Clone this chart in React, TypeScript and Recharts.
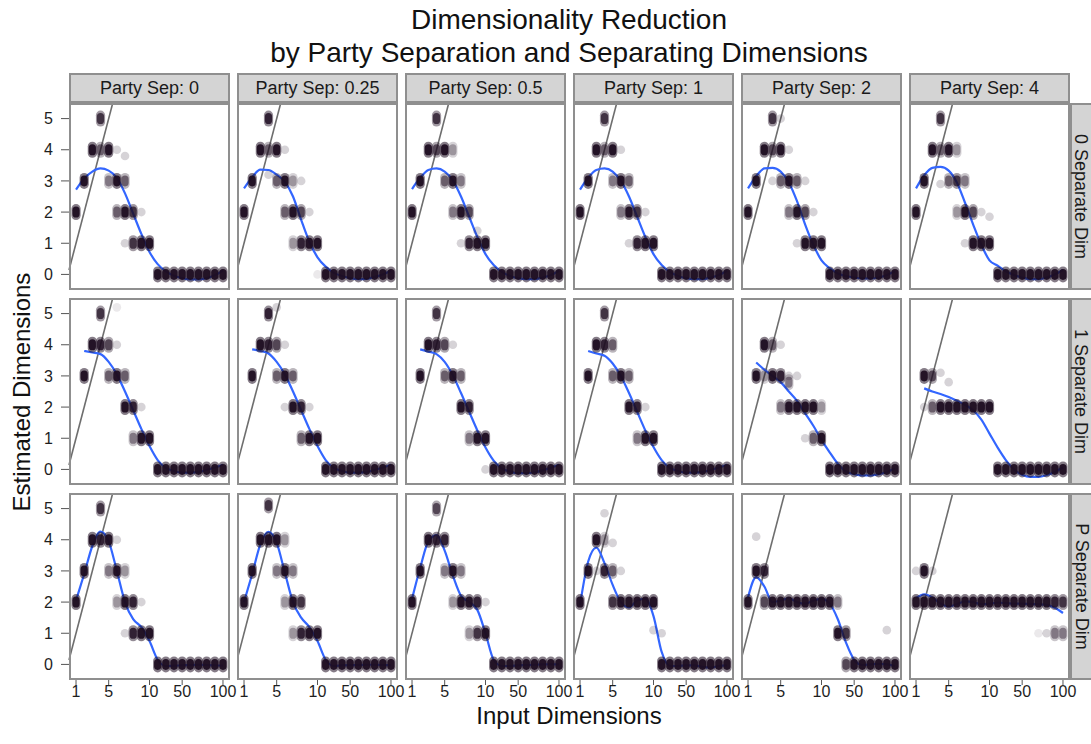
import { ComposedChart, Scatter, Line, XAxis, YAxis, ReferenceLine } from "recharts";

// x categories are placed by index (1..10, then 20..100)
const X_VALUES = [1, 2, 3, 4, 5, 6, 7, 8, 9, 10, 20, 30, 40, 50, 60, 70, 80, 90, 100];
const X_TICK_LABELS = [1, 5, 10, 50, 100];
const Y_TICKS = [0, 1, 2, 3, 4, 5];
const PARTY_SEP = ["0", "0.25", "0.5", "1", "2", "4"];
const SEPARATE_DIMS = ["0", "1", "P"];

// points per input dimension: "estimate:darkness(1-9)"
const PTS_0SEP_0 = ["2:9", "3:9", "4:9", "5:7 4:5", "4:9 3:4", "4:2 3:9 2:5", "3.8:2 3:5 2:9 1:2", "2:7 1:7", "2:2 1:9", "1:9", "0:9", "0:9", "0:9", "0:9", "0:9", "0:9", "0:9", "0:9", "0:9"];
const PTS_0SEP_025 = ["2:9", "3:9", "4:9", "5:8 4:5 3.2:2", "4:9 3:5", "4:2 3:9 2:5", "3:3 2:9 1:3", "3:2 2:6 1:8", "2:2 1:9", "1:9 0:1", "0:9", "0:9", "0:9", "0:9", "0:9", "0:9", "0:9", "0:9", "0:9"];
const PTS_0SEP_05 = ["2:9", "3:9", "4:9", "5:7 4:6", "4:9 3:5", "4:3 3:9 2:4", "3:4 2:9 1:2", "2:6 1:8", "1.4:2 1:9", "1:9", "0:9", "0:9", "0:9", "0:9", "0:9", "0:9", "0:9", "0:9", "0:9"];
const PTS_0SEP_1 = ["2:9", "3:9", "4:9", "5:7 4:5", "4:9 3:4", "4:2 3:9 2:4", "3:5 2:9 1:2", "2:7 1:8", "2:2 1:9", "1:9", "0:9", "0:9", "0:9", "0:9", "0:9", "0:9", "0:9", "0:9", "0:9"];
const PTS_0SEP_2 = ["2:9", "3:9", "4:9", "5:7 4:6 3:2", "5:2 4:9 3:5", "4:2 3:9 2:4", "3:5 2:9 1:2", "3:2 2:6 1:9", "2:2 1:9", "1:9", "0:9", "0:9", "0:9", "0:9", "0:9", "0:9", "0:9", "0:9", "0:9"];
const PTS_0SEP_4 = ["2:9", "3:9", "4:9", "5:7 4:5 2.9:2", "4:9 3:5", "4:3 3:7 2:3", "3:4 2:9 1:2", "2:6 1:9", "2:2 1:9", "1.85:2 1:9", "0:9", "0:9", "0:9", "0:9", "0:9", "0:9", "0:9", "0:9", "0:9"];

const PTS_1SEP_0 = ["", "3:9", "4:9", "5:7 4:8", "4:6 3:5", "5.2:1 4:2 3:9", "3:5 2:9", "2:8 1:4", "2:2 1:9", "1:9", "0:9", "0:9", "0:9", "0:9", "0:9", "0:9", "0:9", "0:9", "0:9"];
const PTS_1SEP_025 = ["", "3:9", "4:9", "5:8 4:8", "5.2:2 4:6 3:5", "4:2 3:9 2:2", "3:5 2:9", "2:8 1:5", "2:2 1:9", "1:9", "0:9", "0:9", "0:9", "0:9", "0:9", "0:9", "0:9", "0:9", "0:9"];
const PTS_1SEP_05 = ["", "3:9", "4:9", "5:7 4:8", "4:6 3:5", "4:2 3:9", "3:5 2:9", "2:8 1:4", "1:9", "1:9 0:2", "0:9", "0:9", "0:9", "0:9", "0:9", "0:9", "0:9", "0:9", "0:9"];
const PTS_1SEP_1 = ["", "3:9", "4:9", "5:7 4:8", "4:5 3:5", "3:9", "3:5 2:9", "2:8 1:4", "2:2 1:9", "1:9", "0:9", "0:9", "0:9", "0:9", "0:9", "0:9", "0:9", "0:9", "0:9"];
const PTS_1SEP_2 = ["", "3:9", "4:9 3:3", "4:5 3:9", "4:2 3:8 2:4", "3:2 2.8:4 2:9", "3:2 2:9", "2:9 1:2", "2:9 1:5", "2:3 1:9", "0:9", "0:9", "0:9", "0:9", "0:9", "0:9", "0:9", "0:9", "0:9"];
const PTS_1SEP_4 = ["", "3:9 2:2", "3:6 2:5", "3.1:2 2:9", "2.8:2 2:9", "2:9", "2:9", "2:9", "2:9", "2:9", "0:9", "0:9", "0:9", "0:9", "0:9", "0:9", "0:9", "0:9", "0:9"];

const PTS_PSEP_0 = ["2:9", "3:9", "4:9", "5:7 4:8", "4:9 3:4", "4:2 3:9 2:3", "3:3 2:9 1:2", "2:8 1:8", "2:2 1:9", "1:9", "0:9", "0:9", "0:9", "0:9", "0:9", "0:9", "0:9", "0:9", "0:9"];
const PTS_PSEP_025 = ["2:9", "3:9", "4:9", "5.1:7 4:9", "4:9 3:4", "4:3 3:9 2:3", "3:4 2:9 1:3", "2:7 1:8", "1:9", "1:9", "0:9", "0:9", "0:9", "0:9", "0:9", "0:9", "0:9", "0:9", "0:9"];
const PTS_PSEP_05 = ["2:9", "3:9", "4:9", "5:6 4:8", "4:8 3:4", "3:9 2:3", "3:4 2:9", "2:9 1:3", "2:8 1:7", "2:2 1:9", "0:9", "0:9", "0:9", "0:9", "0:9", "0:9", "0:9", "0:9", "0:9"];
const PTS_PSEP_1 = ["2:9", "3:9", "4:9 3:2", "4.85:2 4:3 3:8", "3.9:2 3:5 2:7", "3:2 2:9", "2:9", "2:9", "2:9", "2:9 1.1:2", "1:2 0:9", "0:9", "0:9", "0:9", "0:9", "0:9", "0:9", "0:9", "0:9"];
const PTS_PSEP_2 = ["2:9", "4.1:2 3:9", "3:8 2:6", "2:9", "2:9", "2:9", "2:9", "2:9", "2:9", "2:9", "2:9", "2:4 1:9", "1:7 0:6", "0:9", "0:9", "0:9", "0:9", "1.1:2 0:9", "0:9"];
const PTS_PSEP_4 = ["3:2 2:9", "3:9 2:9", "3:2 2:9", "2:9", "2:9", "2:9", "2:9", "2:9", "2:9", "2:9", "2:9", "2:9", "2:9", "2:9", "2:9", "2:9 1:1", "2:9 1:2", "2:8 1:4", "2:7 1:4"];

// loess fit read at each input dimension (null = no data)
const FIT_0SEP_0 = [2.72, 3.08, 3.3, 3.4, 3.33, 3.1, 2.6, 1.95, 1.3, 0.72, 0.33, 0.1, -0.04, -0.12, -0.16, -0.16, -0.12, -0.03, 0.13];
const FIT_0SEP_025 = [2.76, 3.12, 3.36, 3.35, 3.2, 2.97, 2.5, 1.75, 1.05, 0.55, 0.25, 0.05, -0.05, -0.12, -0.15, -0.14, -0.08, 0.0, 0.12];
const FIT_0SEP_05 = [2.74, 3.1, 3.35, 3.4, 3.3, 3.02, 2.5, 1.85, 1.2, 0.65, 0.3, 0.08, -0.05, -0.12, -0.15, -0.15, -0.1, -0.02, 0.12];
const FIT_0SEP_1 = [2.72, 3.1, 3.35, 3.4, 3.3, 3.0, 2.5, 1.85, 1.2, 0.65, 0.3, 0.08, -0.05, -0.12, -0.15, -0.15, -0.1, -0.02, 0.12];
const FIT_0SEP_2 = [2.76, 3.15, 3.4, 3.42, 3.3, 2.95, 2.35, 1.6, 0.95, 0.45, 0.2, 0.03, -0.05, -0.1, -0.13, -0.13, -0.1, -0.02, 0.1];
const FIT_0SEP_4 = [2.76, 3.18, 3.42, 3.45, 3.33, 2.95, 2.3, 1.6, 0.95, 0.45, 0.28, 0.1, -0.02, -0.1, -0.15, -0.15, -0.1, 0.0, 0.14];

const FIT_1SEP_0 = [null, 3.8, 3.75, 3.7, 3.45, 3.05, 2.5, 1.9, 1.3, 0.75, 0.3, 0.05, -0.05, -0.1, -0.1, -0.08, -0.02, 0.06, 0.15];
const FIT_1SEP_025 = [null, 3.85, 3.8, 3.72, 3.45, 3.05, 2.5, 1.9, 1.3, 0.75, 0.3, 0.05, -0.05, -0.1, -0.1, -0.08, -0.02, 0.06, 0.15];
const FIT_1SEP_05 = [null, 3.85, 3.78, 3.7, 3.45, 3.02, 2.45, 1.85, 1.25, 0.7, 0.28, 0.03, -0.07, -0.12, -0.12, -0.09, -0.03, 0.05, 0.15];
const FIT_1SEP_1 = [null, 3.8, 3.72, 3.65, 3.4, 3.0, 2.45, 1.85, 1.25, 0.72, 0.3, 0.05, -0.05, -0.1, -0.1, -0.08, -0.02, 0.06, 0.15];
const FIT_1SEP_2 = [null, 3.43, 3.2, 3.0, 2.8, 2.5, 2.2, 1.8, 1.4, 0.95, 0.55, 0.18, -0.07, -0.15, -0.19, -0.19, -0.15, -0.08, 0.04];
const FIT_1SEP_4 = [null, 2.6, 2.5, 2.42, 2.32, 2.2, 2.07, 1.9, 1.6, 1.15, 0.7, 0.3, 0.0, -0.17, -0.24, -0.24, -0.18, -0.08, 0.07];

const FIT_PSEP_0 = [2.05, 2.9, 3.8, 4.26, 3.95, 3.0, 2.0, 1.45, 1.2, 0.75, 0.15, -0.05, -0.04, -0.03, -0.02, -0.01, -0.02, -0.03, -0.04];
const FIT_PSEP_025 = [2.0, 2.9, 3.85, 4.25, 3.9, 2.95, 2.0, 1.5, 1.2, 0.75, 0.15, -0.05, -0.03, -0.02, -0.02, -0.01, -0.01, -0.02, -0.03];
const FIT_PSEP_05 = [2.1, 3.1, 3.95, 4.15, 3.65, 2.85, 2.2, 2.0, 1.75, 1.0, 0.15, -0.05, -0.05, -0.03, -0.02, -0.01, 0, 0, 0];
const FIT_PSEP_1 = [1.91, 3.3, 3.75, 3.25, 2.55, 2.0, 1.83, 2.05, 2.1, 1.55, 0.4, -0.05, -0.05, -0.03, -0.03, -0.08, -0.1, -0.05, -0.03];
const FIT_PSEP_2 = [2.15, 2.8, 2.5, 2.0, 2.05, 2.12, 2.0, 1.95, 2.05, 2.1, 1.95, 1.45, 0.7, 0.15, -0.02, 0, 0.02, 0, -0.05];
const FIT_PSEP_4 = [2.13, 2.25, 2.15, 1.95, 1.86, 1.93, 2.02, 2.0, 1.93, 1.95, 1.98, 1.97, 1.95, 1.95, 1.94, 1.93, 1.91, 1.82, 1.65];

const POINTS = [
  [PTS_0SEP_0, PTS_0SEP_025, PTS_0SEP_05, PTS_0SEP_1, PTS_0SEP_2, PTS_0SEP_4],
  [PTS_1SEP_0, PTS_1SEP_025, PTS_1SEP_05, PTS_1SEP_1, PTS_1SEP_2, PTS_1SEP_4],
  [PTS_PSEP_0, PTS_PSEP_025, PTS_PSEP_05, PTS_PSEP_1, PTS_PSEP_2, PTS_PSEP_4],
];
const FITS = [
  [FIT_0SEP_0, FIT_0SEP_025, FIT_0SEP_05, FIT_0SEP_1, FIT_0SEP_2, FIT_0SEP_4],
  [FIT_1SEP_0, FIT_1SEP_025, FIT_1SEP_05, FIT_1SEP_1, FIT_1SEP_2, FIT_1SEP_4],
  [FIT_PSEP_0, FIT_PSEP_025, FIT_PSEP_05, FIT_PSEP_1, FIT_PSEP_2, FIT_PSEP_4],
];

const X_DOMAIN: [number, number] = [-0.86, 18.86];
const Y_DOMAIN: [number, number] = [-0.5, 5.5];
const X_TICKS = X_TICK_LABELS.map((v) => X_VALUES.indexOf(v));

const FONT = "'Liberation Sans', Arial, sans-serif";
const INK = "#1e0d21";
const PLOT_LEFT = 69;
const PLOT_W = 161;
const COL_PITCH = 168;
const PLOT_TOP = 103;
const PLOT_H = 187;
const ROW_PITCH = 195;
const Y_AXIS_W = 40;
const X_AXIS_H = 30;
const X_OVERHANG = 16;

const parsePoints = (cols: string[]) => {
  const out: { x: number; y: number; a: number }[] = [];
  cols.forEach((s, i) => {
    s.split(" ").filter(Boolean).forEach((tok) => {
      const [y, n] = tok.split(":");
      out.push({ x: i, y: Number(y), a: Number(n) / 10 });
    });
  });
  return out.sort((p, q) => p.a - q.a);
};

const Blob = (props: any) => {
  const { cx, cy } = props;
  if (cx == null || cy == null) return null;
  const a = props.payload?.a ?? props.a ?? 0.9;
  if (a <= 0.2) return <circle cx={cx} cy={cy} r={4.3} fill={INK} fillOpacity={a * 0.9} />;
  return (
    <g>
      <rect x={cx - 4.6} y={cy - 8} width={9.2} height={16} rx={4.6} fill={INK} fillOpacity={a * 0.6} />
      <rect x={cx - 3.6} y={cy - 5.5} width={7.2} height={11} rx={3.6} fill={INK} fillOpacity={Math.min(1, a * 1.05)} />
    </g>
  );
};

const Panel = ({ r, c }: { r: number; c: number }) => {
  const pts = parsePoints(POINTS[r][c]);
  const fit = FITS[r][c]
    .map((y, i) => (y == null ? null : { x: i, y }))
    .filter(Boolean) as { x: number; y: number }[];
  const showY = c === 0;
  const showX = r === 2;
  const extraRight = showX ? X_OVERHANG : 0;
  const w = PLOT_W + (showY ? Y_AXIS_W : 0) + extraRight;
  const h = PLOT_H + (showX ? X_AXIS_H : 0);
  const left = PLOT_LEFT + c * COL_PITCH;
  const top = PLOT_TOP + r * ROW_PITCH;
  return (
    <>
      <div style={{ position: "absolute", left: left - (showY ? Y_AXIS_W : 0), top }}>
        <ComposedChart width={w} height={h} margin={{ top: 0, right: extraRight, bottom: 0, left: 0 }}>
          <XAxis
            type="number"
            dataKey="x"
            domain={X_DOMAIN}
            allowDataOverflow
            ticks={X_TICKS}
            interval={0}
            tickFormatter={(v) => String(X_VALUES[v])}
            hide={!showX}
            height={X_AXIS_H}
            axisLine={false}
            tickSize={5}
            tickMargin={1}
            tick={{ fontSize: 16, fill: "#1e1e1e", fontFamily: FONT }}
            tickLine={{ stroke: "#555" }}
          />
          <YAxis
            type="number"
            dataKey="y"
            domain={Y_DOMAIN}
            allowDataOverflow
            ticks={Y_TICKS}
            interval={0}
            hide={!showY}
            width={Y_AXIS_W}
            axisLine={false}
            tickSize={8}
            tickMargin={8}
            tick={{ fontSize: 16, fill: "#1e1e1e", fontFamily: FONT }}
            tickLine={{ stroke: "#555" }}
          />
          <ReferenceLine
            segment={[
              { x: X_DOMAIN[0], y: X_DOMAIN[0] + 1 },
              { x: Y_DOMAIN[1] - 1, y: Y_DOMAIN[1] },
            ]}
            stroke="#6e6e6e"
            strokeWidth={1.6}
          />
          <Scatter data={pts} shape={Blob} isAnimationActive={false} />
          <Line
            data={fit}
            dataKey="y"
            type="monotone"
            stroke="#3366FF"
            strokeWidth={2.2}
            dot={false}
            activeDot={false}
            isAnimationActive={false}
          />
        </ComposedChart>
      </div>
      <div
        style={{
          position: "absolute",
          left,
          top,
          width: PLOT_W,
          height: PLOT_H,
          border: "2px solid #8f8f8f",
          boxSizing: "border-box",
          pointerEvents: "none",
        }}
      />
    </>
  );
};

const App = () => {
  const stripStyle = {
    position: "absolute" as const,
    background: "#d4d4d4",
    border: "2px solid #8f8f8f",
    boxSizing: "border-box" as const,
    display: "flex",
    alignItems: "center",
    justifyContent: "center",
    fontSize: 18,
    color: "#1a1a1a",
  };
  return (
    <div
      style={{
        position: "absolute",
        left: 0,
        top: 0,
        width: 1091,
        height: 744,
        background: "#fff",
        fontFamily: FONT,
        overflow: "hidden",
      }}
    >
      <div style={{ position: "absolute", left: 0, width: 1138, top: 3, textAlign: "center", fontSize: 28, lineHeight: "33px", color: "#111" }}>
        Dimensionality Reduction
        <br />
        by Party Separation and Separating Dimensions
      </div>
      {PARTY_SEP.map((p, c) => (
        <div key={p} style={{ ...stripStyle, left: PLOT_LEFT + c * COL_PITCH, top: 73, width: PLOT_W, height: 30 }}>
          Party Sep: {p}
        </div>
      ))}
      {SEPARATE_DIMS.map((d, r) => (
        <div key={d} style={{ ...stripStyle, left: PLOT_LEFT + 5 * COL_PITCH + PLOT_W, top: PLOT_TOP + r * ROW_PITCH, width: 28, height: PLOT_H }}>
          <span style={{ transform: "rotate(90deg)", whiteSpace: "nowrap", marginRight: 6 }}>{d} Separate Dim</span>
        </div>
      ))}
      {[0, 1, 2].map((r) => [0, 1, 2, 3, 4, 5].map((c) => <Panel key={`${r}-${c}`} r={r} c={c} />))}
      <div
        style={{
          position: "absolute",
          left: 22,
          top: PLOT_TOP + (3 * PLOT_H + 2 * (ROW_PITCH - PLOT_H)) / 2,
          transform: "translate(-50%, -50%) rotate(-90deg)",
          whiteSpace: "nowrap",
          fontSize: 24,
          color: "#111",
        }}
      >
        Estimated Dimensions
      </div>
      <div style={{ position: "absolute", left: 0, width: 1138, top: 702, textAlign: "center", fontSize: 24, color: "#111" }}>
        Input Dimensions
      </div>
    </div>
  );
};

export default App;
